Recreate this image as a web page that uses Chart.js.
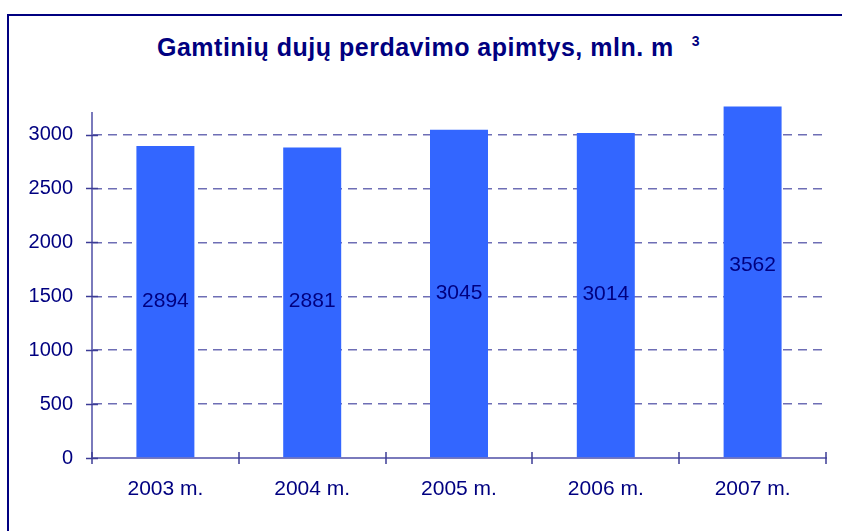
<!DOCTYPE html>
<html>
<head>
<meta charset="utf-8">
<script src="https://cdn.jsdelivr.net/npm/chart.js@4.4.1/dist/chart.umd.min.js"></script>
<style>
html,body{margin:0;padding:0;background:#fff;}
#wrap{position:relative;width:842px;height:531px;overflow:hidden;background:#fff;}
#frame{position:absolute;left:7px;top:14px;width:900px;height:600px;border-left:2px solid #000080;border-top:2px solid #000080;}
#title{position:absolute;left:157px;top:35px;font-family:"Liberation Sans",Arial,sans-serif;font-weight:bold;font-size:25px;line-height:25px;color:#000080;white-space:nowrap;letter-spacing:0.5px;}
#title .sup{position:relative;top:-10px;font-size:14px;margin-left:18px;letter-spacing:0;}
canvas{position:absolute;left:0;top:0;}
</style>
</head>
<body>
<div id="wrap">
  <div id="frame"></div>
  <div id="title">Gamtinių dujų perdavimo apimtys, mln. m<span class="sup">3</span></div>
  <canvas id="c" width="842" height="531"></canvas>
</div>
<script>
const categories = ['2003 m.', '2004 m.', '2005 m.', '2006 m.', '2007 m.'];
const barValues = [2894, 2881, 3045, 3014, 3260];
const labelValues = [2894, 2881, 3045, 3014, 3562];
const yTickValues = [0, 500, 1000, 1500, 2000, 2500, 3000];
const yMax = 3200;

const NAVY = '#000080';
const AXIS = '#7A7ABC';
const GRID = '#6E6EB5';
const FONT = '"Liberation Sans", Arial, sans-serif';

const tickMarks = {
  id: 'tickMarks',
  afterDraw(chart) {
    const ctx = chart.ctx;
    const xs = chart.scales.x, ys = chart.scales.y;
    const area = chart.chartArea;
    ctx.save();
    ctx.strokeStyle = '#3C3C96';
    ctx.lineWidth = 1.5;
    ys.ticks.forEach(t => {
      const y = Math.round(ys.getPixelForValue(t.value)) + 0.5;
      ctx.beginPath();
      ctx.moveTo(area.left - 6, y);
      ctx.lineTo(area.left + 6, y);
      ctx.stroke();
    });
    const n = categories.length;
    for (let i = 0; i <= n; i++) {
      const x = i === 0 ? area.left : (i === n ? area.right : (xs.getPixelForValue(i - 1) + xs.getPixelForValue(i)) / 2);
      const ax = Math.round(x);
      ctx.beginPath();
      ctx.moveTo(ax, area.bottom - 6);
      ctx.lineTo(ax, area.bottom + 6);
      ctx.stroke();
    }
    ctx.restore();
  }
};

const barLabels = {
  id: 'barLabels',
  afterDatasetsDraw(chart) {
    const ctx = chart.ctx;
    const meta = chart.getDatasetMeta(0);
    const ys = chart.scales.y;
    ctx.save();
    ctx.font = '21px ' + FONT;
    ctx.fillStyle = NAVY;
    ctx.textAlign = 'center';
    ctx.textBaseline = 'middle';
    meta.data.forEach((bar, i) => {
      const y = ys.getPixelForValue(labelValues[i] / 2) - 1;
      ctx.fillText(String(labelValues[i]), bar.x, y);
    });
    ctx.restore();
  }
};

new Chart(document.getElementById('c'), {
  type: 'bar',
  data: {
    labels: categories,
    datasets: [{
      data: barValues,
      backgroundColor: '#3366FF',
      borderWidth: 0,
      barPercentage: 0.395,
      categoryPercentage: 1,
      clip: false
    }]
  },
  options: {
    responsive: false,
    animation: false,
    devicePixelRatio: 1,
    layout: { padding: { left: 0, right: 16, top: 113, bottom: 0 } },
    plugins: { legend: { display: false }, title: { display: false }, tooltip: { enabled: false } },
    scales: {
      x: {
        afterFit(s) { s.height = 73; },
        grid: { display: false, drawTicks: false },
        border: { display: true, color: AXIS, width: 2 },
        ticks: { color: NAVY, font: { family: FONT, size: 21 }, padding: 19 }
      },
      y: {
        min: 0,
        max: yMax,
        afterFit(s) { s.width = 92; },
        afterBuildTicks(s) { s.ticks = yTickValues.map(v => ({ value: v })); },
        grid: {
          drawTicks: false,
          color: ctx => (ctx.tick && ctx.tick.value === 0) ? 'rgba(0,0,0,0)' : GRID,
          lineWidth: 1.5
        },
        border: { display: true, color: AXIS, width: 2, dash: [9, 6] },
        ticks: {
          color: NAVY,
          font: { family: FONT, size: 20 },
          padding: 19,
          callback: v => String(v)
        }
      }
    }
  },
  plugins: [tickMarks, barLabels]
});
</script>
</body>
</html>
